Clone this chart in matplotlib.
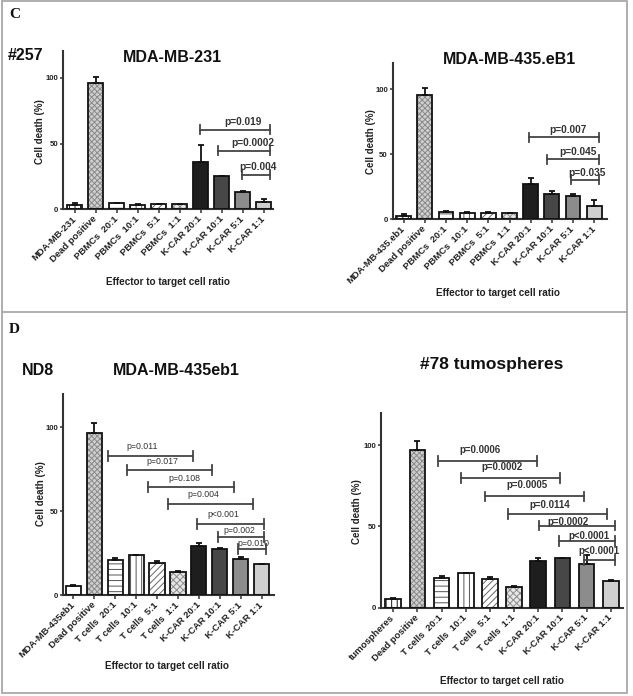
import matplotlib
matplotlib.use('Agg')
import matplotlib.pyplot as plt
from matplotlib.patches import Rectangle
from matplotlib.lines import Line2D

plt.rcParams['font.family'] = ['Liberation Sans', 'DejaVu Sans']
plt.rcParams['hatch.linewidth'] = 0.7

W, H, DPI = 633, 696, 100

# ---------------- data ----------------
c1_labels = ['MDA-MB-231', 'Dead positive', 'PBMCs  20:1', 'PBMCs  10:1', 'PBMCs  5:1',
             'PBMCs  1:1', 'K-CAR 20:1', 'K-CAR 10:1', 'K-CAR 5:1', 'K-CAR 1:1']
c1_means = [3.0, 96.2, 4.8, 3.5, 4.0, 3.8, 35.7, 25.0, 13.3, 5.6]
c1_errs = [1.5, 4.6, 0.3, 0.3, 0.3, 0.3, 13.2, 0.6, 0.3, 2.2]

c2_labels = ['MDA-MB-435.eb1', 'Dead positive', 'PBMCs  20:1', 'PBMCs  10:1', 'PBMCs  5:1',
             'PBMCs  1:1', 'K-CAR 20:1', 'K-CAR 10:1', 'K-CAR 5:1', 'K-CAR 1:1']
c2_means = [2.6, 95.4, 5.9, 5.1, 5.1, 4.6, 27.4, 19.2, 18.2, 10.3]
c2_errs = [1.2, 5.4, 0.5, 0.5, 0.3, 0.3, 4.4, 2.3, 1.5, 4.3]

d1_labels = ['MDA-MB-435eb1', 'Dead positive', 'T cells  20:1', 'T cells  10:1', 'T cells  5:1',
             'T cells  1:1', 'K-CAR 20:1', 'K-CAR 10:1', 'K-CAR 5:1', 'K-CAR 1:1']
d1_means = [5.6, 96.6, 21.0, 24.0, 19.4, 13.7, 29.2, 27.4, 21.6, 18.5]
d1_errs = [0.4, 5.8, 1.4, 0.2, 1.2, 0.8, 2.0, 1.0, 1.4, 0.3]

d2_labels = ['tumospheres', 'Dead positive', 'T cells  20:1', 'T cells  10:1', 'T cells  5:1',
             'T cells  1:1', 'K-CAR 20:1', 'K-CAR 10:1', 'K-CAR 5:1', 'K-CAR 1:1']
d2_means = [5.1, 96.9, 18.3, 21.1, 17.5, 12.9, 29.0, 30.4, 26.9, 16.4]
d2_errs = [0.6, 5.8, 1.2, 0.2, 1.6, 0.7, 1.4, 0.4, 5.5, 0.6]

# significance brackets: (from, to, height, label, label_x, label_y)
c1_sig = [(5.98, 9.29, 60.3, 'p=0.019', 8.0, 66.3),
          (6.83, 9.29, 44.6, 'p=0.0002', 8.47, 50.6),
          (7.94, 9.29, 26.3, 'p=0.004', 8.7, 32.0)]
c2_sig = [(5.93, 9.24, 63.1, 'p=0.007', 7.75, 69.0),
          (6.78, 9.24, 46.2, 'p=0.045', 8.23, 52.0),
          (7.89, 9.24, 30.3, 'p=0.035', 8.64, 36.0)]
d1_sig = [(1.65, 5.73, 83.1, 'p=0.011', 3.3, 88.7),
          (2.55, 6.64, 74.4, 'p=0.017', 4.25, 79.6),
          (3.59, 7.68, 64.7, 'p=0.108', 5.3, 69.8),
          (4.54, 8.60, 54.6, 'p=0.004', 6.21, 59.8),
          (5.90, 9.11, 42.7, 'p<0.001', 7.14, 48.4),
          (6.90, 9.11, 34.5, 'p=0.002', 7.94, 38.9),
          (7.85, 9.19, 27.6, 'p=0.010', 8.6, 30.6)]
d2_sig = [(1.87, 5.96, 90.3, 'p=0.0006', 3.57, 97.3),
          (2.80, 6.89, 79.8, 'p=0.0002', 4.51, 86.6),
          (3.81, 7.89, 68.5, 'p=0.0005', 5.52, 75.3),
          (4.75, 8.83, 57.8, 'p=0.0114', 6.47, 63.0),
          (6.02, 9.18, 50.6, 'p=0.0002', 7.23, 52.5),
          (6.85, 9.18, 40.9, 'p<0.0001', 8.08, 44.0),
          (7.89, 9.18, 29.4, 'p<0.0001', 8.5, 34.8)]

# ---------------- styles ----------------
def bar_styles(first_plain=False):
    first = dict(face='white', hatch=None, hc='black') if first_plain else \
        dict(face='white', hatch='|||', hc='#111111')
    return [first,
            dict(face='#cfcfcf', hatch='xxxxxx', hc='#8a8a8a'),
            dict(face='white', hatch='---', hc='#555555'),
            dict(face='white', hatch='|||', hc='#555555'),
            dict(face='white', hatch='/////', hc='#666666'),
            dict(face='#e6e6e6', hatch='xxxxx', hc='#8c8c8c'),
            dict(face='#1e1e1e', hatch=None, hc='#1e1e1e'),
            dict(face='#474747', hatch=None, hc='#474747'),
            dict(face='#8c8c8c', hatch=None, hc='#8c8c8c'),
            dict(face='#cfcfcf', hatch=None, hc='#cfcfcf')]

fig = plt.figure(figsize=(W / DPI, H / DPI), dpi=DPI)


def fx(x):
    return x / W


def fy(y):
    return 1 - y / H


def add_ax(left, top, right, bottom):
    return fig.add_axes([fx(left), fy(bottom), (right - left) / W, (bottom - top) / H])


def draw_panel(ax, labels, means, errs, sig, xlim, width, styles,
               sig_fs, sig_weight, sig_color, tick_h):
    x = list(range(len(means)))
    for i in x:
        st = styles[i]
        ax.bar(i, means[i], width=width, color=st['face'], hatch=st['hatch'],
               edgecolor=st['hc'], linewidth=0, zorder=2)
        ax.bar(i, means[i], width=width, fill=False, edgecolor='#111111',
               linewidth=1.3, zorder=3)
    ax.errorbar(x, means, yerr=[[0] * len(errs), errs], fmt='none', ecolor='#111111',
                elinewidth=1.3, capsize=2.5, capthick=1.3, zorder=4)
    for (a, b, y, lab, tx, ty) in sig:
        ax.plot([a, b], [y, y], color='#444444', lw=1.3, zorder=5, clip_on=False)
        for e in (a, b):
            ax.plot([e, e], [y - tick_h, y + tick_h], color='#444444', lw=1.3,
                    zorder=5, clip_on=False)
        ax.text(tx, ty, lab, ha='center', va='center', fontsize=sig_fs,
                fontweight=sig_weight, color=sig_color, zorder=6)
    ax.set_xlim(*xlim)
    ax.set_ylim(0, 120)
    ax.set_yticks([0, 50, 100])
    ax.set_yticklabels(['0', '50', '100'], fontsize=5.6, fontweight='bold', color='#222222')
    ax.set_xticks(x)
    ax.set_xticklabels(labels, rotation=45, ha='right', va='center',
                       rotation_mode='anchor', fontsize=6.8, fontweight='bold',
                       color='#222222')
    ax.tick_params(axis='x', length=3, width=1.1, pad=3, color='#333333')
    ax.tick_params(axis='y', length=2.5, width=1.1, pad=1.0, color='#333333')
    for s in ('top', 'right'):
        ax.spines[s].set_visible(False)
    for s in ('left', 'bottom'):
        ax.spines[s].set_color('#333333')
        ax.spines[s].set_linewidth(1.5)
    ax.set_facecolor('none')


# Panel C left
ax1 = add_ax(63, 51.4, 273.3, 209.3)
draw_panel(ax1, c1_labels, c1_means, c1_errs, c1_sig, (-0.55, 9.45), 0.7,
           bar_styles(), 7.3, 'bold', '#333333', 3.4)
# Panel C right
ax2 = add_ax(392.7, 63.3, 606.7, 219.3)
draw_panel(ax2, c2_labels, c2_means, c2_errs, c2_sig, (-0.52, 9.59), 0.7,
           bar_styles(), 7.3, 'bold', '#333333', 3.4)
# Panel D left
ax3 = add_ax(63.3, 393.9, 274, 595.3)
draw_panel(ax3, d1_labels, d1_means, d1_errs, d1_sig, (-0.47, 9.58), 0.72,
           bar_styles(first_plain=True), 6.3, 'normal', '#333333', 3.0)
# Panel D right
ax4 = add_ax(381, 412.8, 623.3, 607.7)
draw_panel(ax4, d2_labels, d2_means, d2_errs, d2_sig, (-0.51, 9.52), 0.65,
           bar_styles(), 7.0, 'bold', '#333333', 3.0)

# Axis labels
for (xx, yy) in [(40, 132), (371, 142), (40.7, 494), (357, 512)]:
    fig.text(fx(xx), fy(yy), 'Cell death (%)', rotation=90, ha='center', va='center',
             fontsize=7, fontweight='bold', color='#222222')
for (xx, yy) in [(168, 282), (498, 293), (167, 666), (502, 681)]:
    fig.text(fx(xx), fy(yy), 'Effector to target cell ratio', ha='center', va='center',
             fontsize=7.2, fontweight='bold', color='#222222')

# Titles
fig.text(fx(172), fy(57), 'MDA-MB-231', ha='center', va='center', fontsize=11.5,
         fontweight='bold', color='#111111')
fig.text(fx(8), fy(55), '#257', ha='left', va='center', fontsize=11.5,
         fontweight='bold', color='#111111')
fig.text(fx(510), fy(60), 'MDA-MB-435.eB1', ha='center', va='center', fontsize=11.5,
         fontweight='bold', color='#111111')
fig.text(fx(22), fy(370), 'ND8', ha='left', va='center', fontsize=11.5,
         fontweight='bold', color='#111111')
fig.text(fx(176), fy(370), 'MDA-MB-435eb1', ha='center', va='center', fontsize=11.5,
         fontweight='bold', color='#111111')
fig.text(fx(492), fy(365), '#78 tumospheres', ha='center', va='center', fontsize=12.5,
         fontweight='bold', color='#111111')

# Panel letters
fig.text(fx(9), fy(14), 'C', ha='left', va='center', fontsize=11, fontweight='bold',
         family='Liberation Serif', color='#111111')
fig.text(fx(9), fy(329.5), 'D', ha='left', va='center', fontsize=11, fontweight='bold',
         family='Liberation Serif', color='#111111')

# Frames
fig.add_artist(Rectangle((fx(2), fy(693)), (627 - 2) / W, (693 - 1) / H,
                         transform=fig.transFigure, fill=False, ec='#a8a8a8', lw=1.3))
fig.add_artist(Line2D([fx(2), fx(627)], [fy(312), fy(312)], transform=fig.transFigure,
                      color='#a8a8a8', lw=1.3))

fig.savefig('out.png', dpi=DPI)
